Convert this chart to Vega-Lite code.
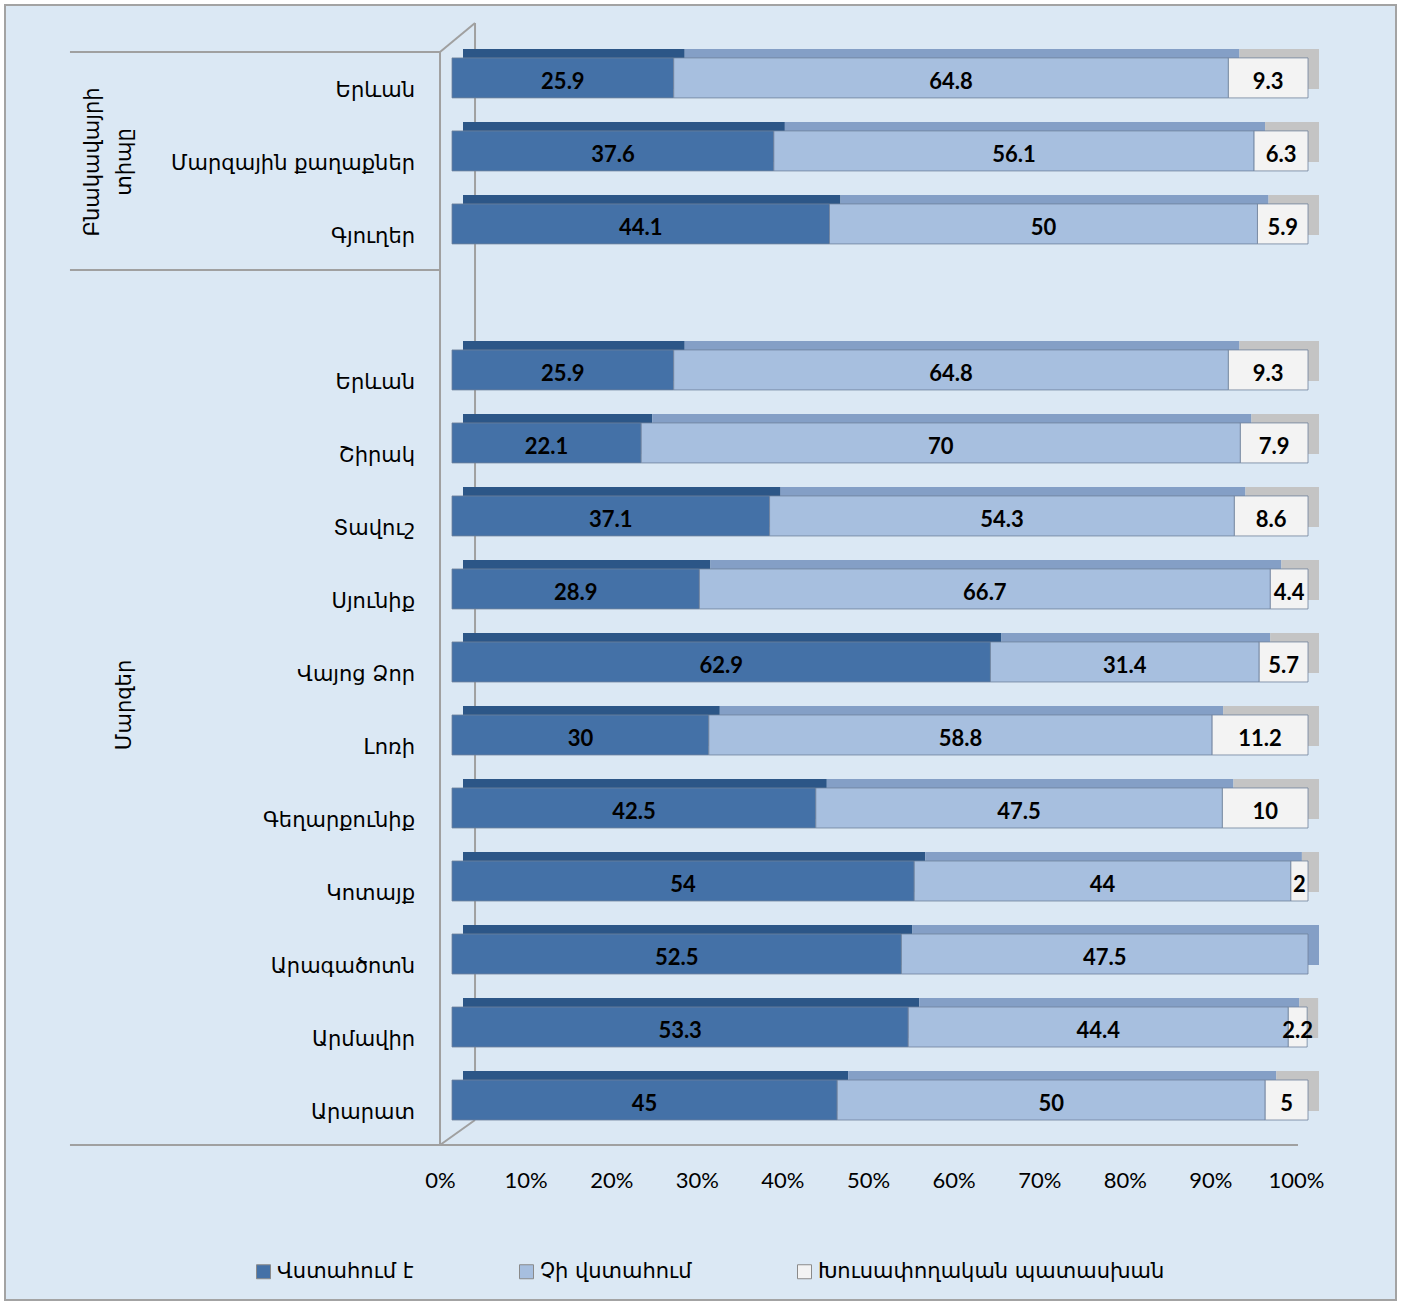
{
  "$schema": "https://vega.github.io/schema/vega-lite/v6.json",
  "width": 1391,
  "height": 1295,
  "autosize": {"type": "none"},
  "padding": {"left": 5, "top": 5, "right": 8, "bottom": 4},
  "background": "white",
  "config": {"view": {"fill": "#dbe8f4", "stroke": "#a3a3a3", "strokeWidth": 2}},
  "resolve": {"scale": {"color": "independent"}, "legend": {"color": "independent"}},
  "datasets": {
    "bars": [
      {"row": "r01", "series": "Վստահում է", "k": 1, "value": 25.9},
      {"row": "r01", "series": "Չի վստահում", "k": 2, "value": 64.8},
      {"row": "r01", "series": "Խուսափողական պատասխան", "k": 3, "value": 9.3},
      {"row": "r02", "series": "Վստահում է", "k": 1, "value": 37.6},
      {"row": "r02", "series": "Չի վստահում", "k": 2, "value": 56.1},
      {"row": "r02", "series": "Խուսափողական պատասխան", "k": 3, "value": 6.3},
      {"row": "r03", "series": "Վստահում է", "k": 1, "value": 44.1},
      {"row": "r03", "series": "Չի վստահում", "k": 2, "value": 50},
      {"row": "r03", "series": "Խուսափողական պատասխան", "k": 3, "value": 5.9},
      {"row": "r05", "series": "Վստահում է", "k": 1, "value": 25.9},
      {"row": "r05", "series": "Չի վստահում", "k": 2, "value": 64.8},
      {"row": "r05", "series": "Խուսափողական պատասխան", "k": 3, "value": 9.3},
      {"row": "r06", "series": "Վստահում է", "k": 1, "value": 22.1},
      {"row": "r06", "series": "Չի վստահում", "k": 2, "value": 70},
      {"row": "r06", "series": "Խուսափողական պատասխան", "k": 3, "value": 7.9},
      {"row": "r07", "series": "Վստահում է", "k": 1, "value": 37.1},
      {"row": "r07", "series": "Չի վստահում", "k": 2, "value": 54.3},
      {"row": "r07", "series": "Խուսափողական պատասխան", "k": 3, "value": 8.6},
      {"row": "r08", "series": "Վստահում է", "k": 1, "value": 28.9},
      {"row": "r08", "series": "Չի վստահում", "k": 2, "value": 66.7},
      {"row": "r08", "series": "Խուսափողական պատասխան", "k": 3, "value": 4.4},
      {"row": "r09", "series": "Վստահում է", "k": 1, "value": 62.9},
      {"row": "r09", "series": "Չի վստահում", "k": 2, "value": 31.4},
      {"row": "r09", "series": "Խուսափողական պատասխան", "k": 3, "value": 5.7},
      {"row": "r10", "series": "Վստահում է", "k": 1, "value": 30},
      {"row": "r10", "series": "Չի վստահում", "k": 2, "value": 58.8},
      {"row": "r10", "series": "Խուսափողական պատասխան", "k": 3, "value": 11.2},
      {"row": "r11", "series": "Վստահում է", "k": 1, "value": 42.5},
      {"row": "r11", "series": "Չի վստահում", "k": 2, "value": 47.5},
      {"row": "r11", "series": "Խուսափողական պատասխան", "k": 3, "value": 10},
      {"row": "r12", "series": "Վստահում է", "k": 1, "value": 54},
      {"row": "r12", "series": "Չի վստահում", "k": 2, "value": 44},
      {"row": "r12", "series": "Խուսափողական պատասխան", "k": 3, "value": 2},
      {"row": "r13", "series": "Վստահում է", "k": 1, "value": 52.5},
      {"row": "r13", "series": "Չի վստահում", "k": 2, "value": 47.5},
      {"row": "r14", "series": "Վստահում է", "k": 1, "value": 53.3},
      {"row": "r14", "series": "Չի վստահում", "k": 2, "value": 44.4},
      {"row": "r14", "series": "Խուսափողական պատասխան", "k": 3, "value": 2.2},
      {"row": "r15", "series": "Վստահում է", "k": 1, "value": 45},
      {"row": "r15", "series": "Չի վստահում", "k": 2, "value": 50},
      {"row": "r15", "series": "Խուսափողական պատասխան", "k": 3, "value": 5}
    ],
    "cats": [
      {"row": "r01", "label": "Երևան"},
      {"row": "r02", "label": "Մարզային քաղաքներ"},
      {"row": "r03", "label": "Գյուղեր"},
      {"row": "r05", "label": "Երևան"},
      {"row": "r06", "label": "Շիրակ"},
      {"row": "r07", "label": "Տավուշ"},
      {"row": "r08", "label": "Սյունիք"},
      {"row": "r09", "label": "Վայոց Ձոր"},
      {"row": "r10", "label": "Լոռի"},
      {"row": "r11", "label": "Գեղարքունիք"},
      {"row": "r12", "label": "Կոտայք"},
      {"row": "r13", "label": "Արագածոտն"},
      {"row": "r14", "label": "Արմավիր"},
      {"row": "r15", "label": "Արարատ"}
    ],
    "groups": [
      {"g": 1, "row": "r02", "label": "Բնակավայրի\nտիպը"},
      {"g": 2, "row": "r09", "label": "Մարզեր"}
    ]
  },
  "layer": [
    {
      "data": {"values": [{}]},
      "mark": {"type": "rule", "color": "#a0a0a0", "strokeWidth": 2, "yOffset": -26},
      "encoding": {
        "x": {"datum": -44.63, "type": "quantitative"},
        "x2": {"datum": -1.4},
        "y": {"datum": "r01", "type": "nominal", "axis": null}
      }
    },
    {
      "data": {"values": [{}]},
      "mark": {"type": "rule", "color": "#a0a0a0", "strokeWidth": 2, "yOffset": 46},
      "encoding": {
        "x": {"datum": -44.63, "type": "quantitative"},
        "x2": {"datum": -1.4},
        "y": {"datum": "r03", "type": "nominal", "axis": null}
      }
    },
    {
      "data": {"values": [{}]},
      "mark": {"type": "rule", "color": "#a0a0a0", "strokeWidth": 2, "yOffset": 45},
      "encoding": {
        "x": {"datum": -44.63, "type": "quantitative"},
        "x2": {"datum": 98.83},
        "y": {"datum": "r15", "type": "nominal", "axis": null}
      }
    },
    {
      "data": {"values": [{}]},
      "mark": {"type": "rule", "color": "#a0a0a0", "strokeWidth": 2, "yOffset": -26, "y2Offset": 45},
      "encoding": {
        "x": {"datum": -1.4, "type": "quantitative"},
        "y": {"datum": "r01", "type": "nominal", "axis": null},
        "y2": {"datum": "r15"}
      }
    },
    {
      "data": {"values": [{}]},
      "mark": {"type": "rule", "color": "#a0a0a0", "strokeWidth": 2, "yOffset": -55, "y2Offset": 20},
      "encoding": {
        "x": {"datum": 2.69, "type": "quantitative"},
        "y": {"datum": "r01", "type": "nominal", "axis": null},
        "y2": {"datum": "r15"}
      }
    },
    {
      "data": {"values": [{}]},
      "mark": {"type": "rule", "color": "#a0a0a0", "strokeWidth": 2, "yOffset": -26, "y2Offset": -55},
      "encoding": {
        "x": {"datum": -1.4, "type": "quantitative"},
        "x2": {"datum": 2.69},
        "y": {"datum": "r01", "type": "nominal", "axis": null},
        "y2": {"datum": "r01"}
      }
    },
    {
      "data": {"values": [{}]},
      "mark": {"type": "rule", "color": "#a0a0a0", "strokeWidth": 2, "yOffset": 45, "y2Offset": 20},
      "encoding": {
        "x": {"datum": -1.4, "type": "quantitative"},
        "x2": {"datum": 2.69},
        "y": {"datum": "r15", "type": "nominal", "axis": null},
        "y2": {"datum": "r15"}
      }
    },
    {
      "data": {"name": "bars"},
      "transform": [
        {"stack": "value", "groupby": ["row"], "sort": [{"field": "k"}], "as": ["x0", "x1"]}
      ],
      "mark": {"type": "bar", "xOffset": 11, "x2Offset": 11, "yOffset": -9, "y2Offset": -9},
      "encoding": {
        "x": {"field": "x0", "type": "quantitative"},
        "x2": {"field": "x1"},
        "y": {"field": "row", "type": "nominal", "axis": null},
        "color": {
          "field": "series", "type": "nominal", "legend": null,
          "scale": {"domain": ["Վստահում է", "Չի վստահում", "Խուսափողական պատասխան"], "range": ["#2c5687", "#849fc6", "#c4c4c4"]}
        }
      }
    },
    {
      "data": {"name": "bars"},
      "transform": [
        {"stack": "value", "groupby": ["row"], "sort": [{"field": "k"}], "as": ["x0", "x1"]}
      ],
      "mark": {"type": "bar", "stroke": "#6f819c", "strokeWidth": 0.8},
      "encoding": {
        "x": {
          "field": "x0", "type": "quantitative", "title": null,
          "scale": {"domain": [-52.22, 110.28], "nice": false, "zero": false},
          "axis": {
            "values": [0, 10, 20, 30, 40, 50, 60, 70, 80, 90, 100],
            "labelExpr": "datum.value + '%'",
            "grid": false, "domain": false, "ticks": false,
            "offset": -132, "labelPadding": 2, "labelOffset": -12,
            "labelFont": "Lato", "labelFontSize": 22, "labelColor": "#000000"
          }
        },
        "x2": {"field": "x1"},
        "y": {
          "field": "row", "type": "nominal", "axis": null,
          "scale": {
            "domain": ["r01", "r02", "r03", "r04", "r05", "r06", "r07", "r08", "r09", "r10", "r11", "r12", "r13", "r14", "r15", "r16", "r17"],
            "paddingInner": 0.452, "paddingOuter": 0.595, "align": 0.609
          }
        },
        "color": {
          "field": "series", "type": "nominal",
          "scale": {"domain": ["Վստահում է", "Չի վստահում", "Խուսափողական պատասխան"], "range": ["#4471a7", "#a7bfdf", "#f3f3f3"]},
          "legend": {
            "title": null, "orient": "none", "legendX": 248, "legendY": 1256, "direction": "horizontal",
            "labelFont": "DejaVu Sans", "labelFontSize": 21, "labelColor": "#000000", "labelLimit": 500,
            "symbolType": "square", "symbolSize": 196, "symbolStrokeColor": "#8a8a8a", "symbolStrokeWidth": 1,
            "columnPadding": 102, "labelOffset": 3
          }
        }
      }
    },
    {
      "data": {"name": "bars"},
      "transform": [
        {"stack": "value", "groupby": ["row"], "sort": [{"field": "k"}], "as": ["x0", "x1"]},
        {"calculate": "(datum.x0 + datum.x1) / 2", "as": "xmid"}
      ],
      "mark": {"type": "text", "font": "Lato", "fontWeight": "bold", "fontSize": 22, "color": "#000000", "align": "center", "baseline": "middle", "yOffset": 4},
      "encoding": {
        "x": {"field": "xmid", "type": "quantitative"},
        "y": {"field": "row", "type": "nominal", "axis": null},
        "text": {"field": "value", "type": "nominal"}
      }
    },
    {
      "data": {"name": "cats"},
      "mark": {"type": "text", "font": "DejaVu Sans", "fontSize": 21, "color": "#000000", "align": "right", "baseline": "middle", "yOffset": 13},
      "encoding": {
        "x": {"datum": -4.32, "type": "quantitative"},
        "y": {"field": "row", "type": "nominal", "axis": null},
        "text": {"field": "label", "type": "nominal"}
      }
    },
    {
      "data": {"name": "groups"},
      "transform": [{"filter": "datum.g == 1"}],
      "mark": {"type": "text", "font": "DejaVu Sans", "fontSize": 21, "color": "#000000", "align": "center", "baseline": "middle", "angle": 270, "lineBreak": "\n", "lineHeight": 32, "yOffset": 11},
      "encoding": {
        "x": {"datum": -41.95, "type": "quantitative"},
        "y": {"field": "row", "type": "nominal", "axis": null},
        "text": {"field": "label", "type": "nominal"}
      }
    },
    {
      "data": {"name": "groups"},
      "transform": [{"filter": "datum.g == 2"}],
      "mark": {"type": "text", "font": "DejaVu Sans", "fontSize": 21, "color": "#000000", "align": "center", "baseline": "middle", "angle": 270, "yOffset": 43},
      "encoding": {
        "x": {"datum": -38.2, "type": "quantitative"},
        "y": {"field": "row", "type": "nominal", "axis": null},
        "text": {"field": "label", "type": "nominal"}
      }
    }
  ]
}
